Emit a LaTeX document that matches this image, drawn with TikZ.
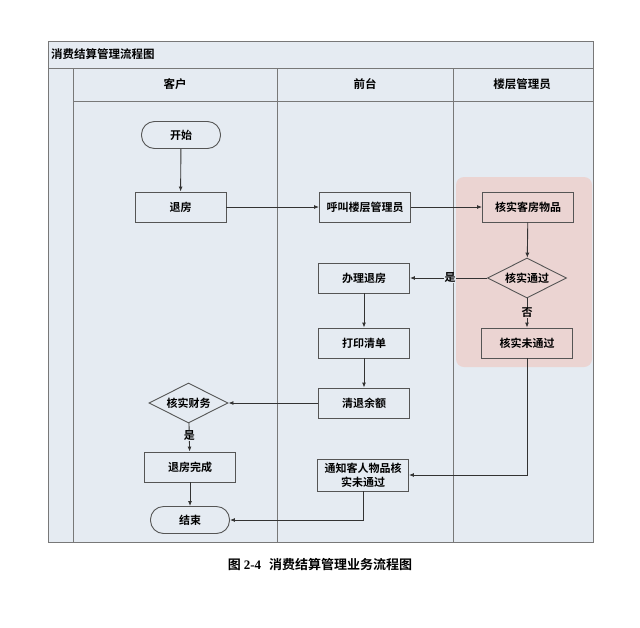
\documentclass[tikz,border=0pt]{standalone}
\usepackage{fontspec}
\setmainfont{Liberation Serif}
\newfontfamily\cjk{Noto Sans CJK SC}[BoldFont={Noto Sans CJK SC Bold}]
\usetikzlibrary{shapes.geometric,arrows.meta}
\definecolor{lanefill}{RGB}{229,235,242}
\definecolor{pinkfill}{RGB}{235,212,210}
\definecolor{frameline}{RGB}{120,120,120}
\definecolor{boxline}{RGB}{85,85,85}
\tikzset{
  procbox/.style={draw=boxline, line width=0.9pt, minimum width=91pt, minimum height=30pt, inner sep=1pt, font=\cjk\fontsize{11}{14}\selectfont\bfseries, align=center},
  termbox/.style={draw=boxline, line width=0.9pt, rounded corners=13pt, minimum width=79pt, minimum height=27pt, font=\cjk\fontsize{11}{13}\selectfont\bfseries},
  decide/.style={draw=boxline, line width=0.9pt, diamond, aspect=2.05, minimum width=79pt, minimum height=40pt, inner sep=0pt, font=\cjk\fontsize{11}{13}\selectfont\bfseries},
  flow/.style={draw=black!80, line width=0.9pt, -{Latex[length=5pt,width=4pt]}},
  lbl/.style={font=\cjk\fontsize{11}{13}\selectfont\bfseries, fill=lanefill, inner sep=0.5pt},
  lanetext/.style={font=\cjk\fontsize{11.5}{13}\selectfont\bfseries},
}
\begin{document}
\begin{tikzpicture}[x=1pt,y=-1pt]
\useasboundingbox (0,0) rectangle (640,627);
\fill[white] (0,0) rectangle (640,627);
% frame
\fill[lanefill] (48,41) rectangle (593,542);
\fill[pinkfill] (456,177) [rounded corners=8pt] rectangle (592,367);
\draw[frameline, line width=0.9pt] (48,41) rectangle (593,542);
\draw[frameline, line width=0.9pt] (48,68) -- (593,68);
\draw[frameline, line width=0.9pt] (73,101) -- (593,101);
\draw[frameline, line width=0.9pt] (73,68) -- (73,542);
\draw[frameline, line width=0.9pt] (277,68) -- (277,542);
\draw[frameline, line width=0.9pt] (453,68) -- (453,542);
\node[lanetext, anchor=west, inner sep=0pt] (title) at (51,54) {消费结算管理流程图};
\node[lanetext] (h1) at (175,84) {客户};
\node[lanetext] (h2) at (365,84) {前台};
\node[lanetext] (h3) at (522,84) {楼层管理员};
% nodes
\node[termbox] (start) at (181,135) {开始};
\node[procbox] (tuifang) at (180.5,207) {退房};
\node[procbox] (hujiao) at (365,207) {呼叫楼层管理员};
\node[procbox] (hesk) at (528,207) {核实客房物品};
\node[decide] (hstg) at (527,278) {核实通过};
\node[procbox] (banli) at (364,278) {办理退房};
\node[procbox] (hswtg) at (527,343) {核实未通过};
\node[procbox] (dayin) at (364,343) {打印清单};
\node[procbox] (qingtui) at (364,403) {清退余额};
\node[decide] (hscw) at (188.5,403) {核实财务};
\node[procbox] (wancheng) at (190,467) {退房完成};
\node[procbox, minimum height=32pt, inner sep=0pt] (tongzhi) at (363,475) {通知客人物品核\\实未通过};
\node[termbox] (end) at (190,520) {结束};
\coordinate (c1) at (tongzhi.south |- end.east);
% connectors
\draw[flow] (start) -- (tuifang);
\draw[flow] (tuifang) -- (hujiao);
\draw[flow] (hujiao) -- (hesk);
\draw[flow] (hesk) -- (hstg);
\draw[flow] (hstg) -- node[lbl, pos=0.48, fill=lanefill] (yes1) {是} (banli);
\draw[flow] (hstg) -- node[lbl, pos=0.5, fill=pinkfill] (no1) {否} (hswtg);
\draw[flow] (banli) -- (dayin);
\draw[flow] (dayin) -- (qingtui);
\draw[flow] (qingtui) -- (hscw);
\draw[flow] (hscw) -- node[lbl, pos=0.45] (yes2) {是} (wancheng);
\draw[flow] (wancheng) -- (end);
\draw[flow] (hswtg) |- (tongzhi);
\draw[flow] (tongzhi.south) -- (c1) -- (end.east);
% caption
\node[font=\cjk\fontsize{13}{15}\selectfont\bfseries] (cap) at (320,565) {图 {\rmfamily\bfseries 2-4}\hspace{0.6em}消费结算管理业务流程图};
\end{tikzpicture}
\end{document}
